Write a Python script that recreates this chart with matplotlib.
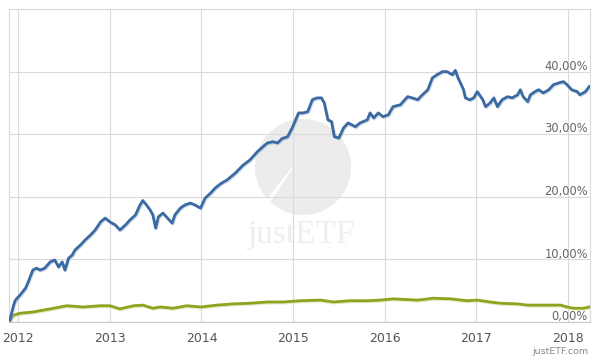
import matplotlib
matplotlib.use("Agg")
import matplotlib.pyplot as plt
import matplotlib.patheffects as pe
from matplotlib.patches import Circle, Polygon

# ---- data (decimal year, cumulative performance in %) ----
blue_t = [2011.91, 2011.95, 2011.97, 2012.02, 2012.08, 2012.11, 2012.16, 2012.20, 2012.24, 2012.29,
          2012.35, 2012.40, 2012.44, 2012.48, 2012.51, 2012.55, 2012.59, 2012.62, 2012.68, 2012.73,
          2012.79, 2012.84, 2012.90, 2012.95, 2013.00, 2013.06, 2013.11, 2013.17, 2013.22, 2013.28,
          2013.33, 2013.36, 2013.40, 2013.44, 2013.47, 2013.50, 2013.53, 2013.58, 2013.63, 2013.68,
          2013.71, 2013.77, 2013.82, 2013.88, 2013.93, 2013.99, 2014.04, 2014.10, 2014.15, 2014.21,
          2014.28, 2014.37, 2014.45, 2014.53, 2014.61, 2014.67, 2014.72, 2014.78, 2014.83, 2014.88,
          2014.94, 2014.99, 2015.06, 2015.11, 2015.16, 2015.21, 2015.26, 2015.31, 2015.34, 2015.38,
          2015.42, 2015.45, 2015.50, 2015.55, 2015.60, 2015.68, 2015.73, 2015.81, 2015.84, 2015.88,
          2015.93, 2015.98, 2016.04, 2016.09, 2016.17, 2016.25, 2016.30, 2016.36, 2016.39, 2016.47,
          2016.52, 2016.57, 2016.63, 2016.68, 2016.74, 2016.77, 2016.80, 2016.86, 2016.88, 2016.93,
          2016.97, 2017.01, 2017.07, 2017.10, 2017.15, 2017.19, 2017.23, 2017.28, 2017.34, 2017.39,
          2017.45, 2017.48, 2017.51, 2017.56, 2017.59, 2017.64, 2017.68, 2017.73, 2017.79, 2017.84,
          2017.90, 2017.95, 2017.99, 2018.04, 2018.10, 2018.13, 2018.19, 2018.23]
blue_v = [0.3, 2.7, 3.5, 4.3, 5.4, 6.4, 8.3, 8.6, 8.3, 8.6,
          9.6, 9.9, 8.8, 9.6, 8.3, 10.2, 10.7, 11.5, 12.3, 13.1,
          13.9, 14.7, 16.0, 16.6, 16.0, 15.5, 14.7, 15.5, 16.3, 17.1,
          18.7, 19.4, 18.7, 17.9, 17.1, 15.0, 16.8, 17.4, 16.6, 15.8,
          17.1, 18.2, 18.7, 19.0, 18.7, 18.2, 19.8, 20.6, 21.4, 22.1,
          22.7, 23.8, 25.0, 25.9, 27.2, 28.0, 28.6, 28.8, 28.6, 29.3,
          29.6, 31.0, 33.4, 33.4, 33.6, 35.5, 35.8, 35.8, 35.0, 32.3,
          32.0, 29.6, 29.4, 31.0, 31.8, 31.2, 31.8, 32.3, 33.4, 32.6,
          33.4, 32.8, 33.1, 34.4, 34.7, 36.0, 35.8, 35.5, 36.0, 37.1,
          39.0, 39.5, 40.0, 40.0, 39.5, 40.2, 39.0, 37.1, 35.8, 35.5,
          35.8, 36.8, 35.5, 34.4, 35.0, 35.8, 34.4, 35.5, 36.0, 35.8,
          36.3, 37.1, 36.0, 35.2, 36.3, 36.8, 37.1, 36.6, 37.1, 37.9,
          38.2, 38.4, 37.9, 37.1, 36.8, 36.3, 36.8, 37.6]

green_t = [2011.91, 2011.95, 2012.02, 2012.16, 2012.35, 2012.53, 2012.71, 2012.90, 2013.00, 2013.11,
           2013.26, 2013.36, 2013.47, 2013.55, 2013.69, 2013.84, 2013.99, 2014.17, 2014.35, 2014.53,
           2014.72, 2014.89, 2015.08, 2015.30, 2015.44, 2015.62, 2015.81, 2015.95, 2016.09, 2016.36,
           2016.53, 2016.72, 2016.90, 2017.01, 2017.15, 2017.26, 2017.45, 2017.56, 2017.70, 2017.92,
           2017.99, 2018.06, 2018.17, 2018.23]
green_v = [0.3, 1.1, 1.4, 1.6, 2.1, 2.6, 2.4, 2.6, 2.6, 2.1,
           2.6, 2.7, 2.2, 2.4, 2.2, 2.6, 2.4, 2.7, 2.9, 3.0,
           3.2, 3.2, 3.4, 3.5, 3.2, 3.4, 3.4, 3.5, 3.7, 3.5,
           3.8, 3.7, 3.4, 3.5, 3.2, 3.0, 2.9, 2.7, 2.7, 2.7,
           2.4, 2.2, 2.2, 2.4]

x_ticks = [2012, 2013, 2014, 2015, 2016, 2017, 2018]
x_labels = ["2012", "2013", "2014", "2015", "2016", "2017", "2018"]
y_ticks = [0, 10, 20, 30, 40]
y_labels = ["0,00%", "10,00%", "20,00%", "30,00%", "40,00%"]

# ---- figure ----
fig = plt.figure(figsize=(6, 3.6), dpi=100)
ax = fig.add_axes([9 / 600, 1 - 322 / 360, 581 / 600, 313 / 360])
ax.set_xlim(2011.90, 2018.24)
ax.set_ylim(0, 50)

# watermark
wm_ax = fig.add_axes([0, 0, 1, 1], zorder=0)
wm_ax.set_xlim(0, 600)
wm_ax.set_ylim(360, 0)
wm_ax.axis("off")
wm_ax.add_patch(Circle((303, 167), 48, color="#ececec", lw=0))
wm_ax.add_patch(Polygon([(262, 205), (298, 160), (272, 200)], closed=True, color="white", lw=0))
wm_ax.text(302, 235, "justETF", ha="center", va="center", fontsize=24,
           family="Liberation Serif", color="#eeeeee")
ax.set_zorder(1)
ax.patch.set_alpha(0)

# grid
for yv in y_ticks + [50]:
    ax.axhline(yv, color="#dadada", lw=0.8, zorder=0)
for xv in x_ticks:
    ax.axvline(xv, color="#dadada", lw=0.8, zorder=0)

ax.plot(green_t, green_v, color="#8ca51e", lw=2.0, solid_joinstyle="round", zorder=3,
        path_effects=[pe.SimpleLineShadow(offset=(0.6, -0.8), shadow_color="#c7d48f", alpha=0.5), pe.Normal()])
ax.plot(blue_t, blue_v, color="#3b6aa3", lw=2.0, solid_joinstyle="round", zorder=4,
        path_effects=[pe.SimpleLineShadow(offset=(0.6, -0.8), shadow_color="#9fb4cc", alpha=0.5), pe.Normal()])

# spines
for s in ["left", "top", "right"]:
    ax.spines[s].set_color("#dadada")
    ax.spines[s].set_linewidth(0.8)
ax.spines["bottom"].set_color("#c8c8c8")
ax.spines["bottom"].set_linewidth(0.8)

ax.set_yticks([])
ax.set_xticks(x_ticks)
ax.set_xticklabels(x_labels, fontsize=9, color="#555555")
ax.tick_params(axis="x", length=0, pad=7)

for yv, lab in zip(y_ticks, y_labels):
    ax.annotate(lab, xy=(1, yv), xycoords=("axes fraction", "data"),
                xytext=(-1.5, -0.8), textcoords="offset points",
                ha="right", va="bottom", fontsize=8.3, color="#666666", zorder=5)

fig.text(588 / 600, 1 - 352 / 360, "justETF.com", ha="right", va="center",
         fontsize=6.8, color="#888888")

fig.savefig("out.png", dpi=100)
